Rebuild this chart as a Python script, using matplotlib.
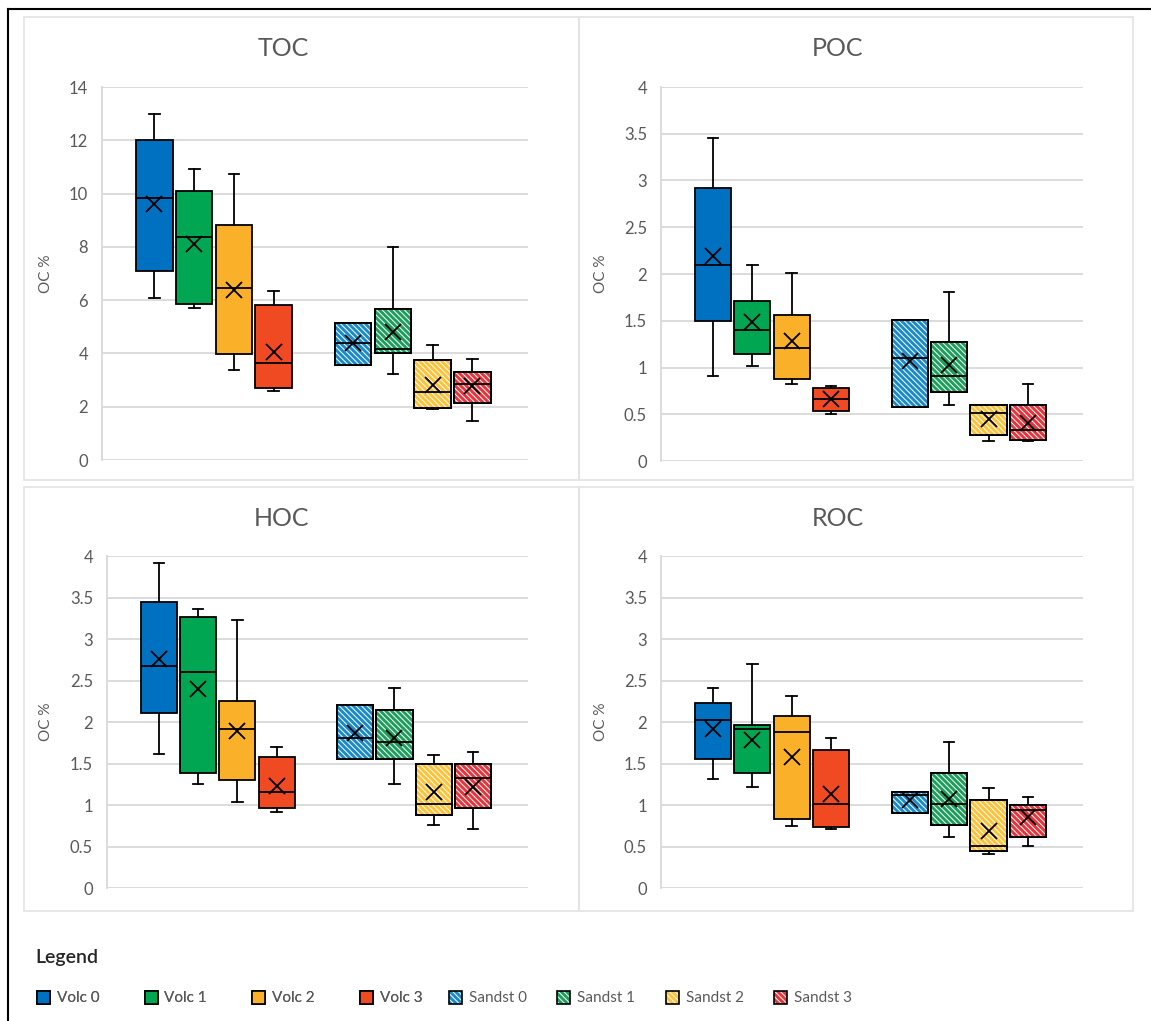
import numpy as np
import matplotlib
matplotlib.use('Agg')
import matplotlib.pyplot as plt
from matplotlib.patches import Patch, PathPatch, Rectangle
from matplotlib.lines import Line2D
from matplotlib.ticker import FuncFormatter

plt.rcParams['font.family'] = ['Lato', 'DejaVu Sans']
plt.rcParams['hatch.linewidth'] = 0.7

# groups, in drawing order
groups = ['Volc 0', 'Volc 1', 'Volc 2', 'Volc 3',
          'Sandst 0', 'Sandst 1', 'Sandst 2', 'Sandst 3']
colors = ['#0070C0', '#00A651', '#FBB02A', '#F04A23',
          '#1A8ACB', '#1E9E5C', '#FCC23A', '#E6343C']
hatched = [False, False, False, False, True, True, True, True]
positions = [0, 1, 2, 3, 5, 6, 7, 8]

# TOC
toc_min = [6.09, 5.69, 3.38, 2.59, 3.55, 3.21, 1.93, 1.46]
toc_q1 = [7.10, 5.84, 3.98, 2.71, 3.55, 4.00, 1.96, 2.15]
toc_med = [9.85, 8.36, 6.44, 3.65, 4.40, 4.18, 2.56, 2.84]
toc_q3 = [12.0, 10.09, 8.83, 5.80, 5.16, 5.66, 3.74, 3.29]
toc_max = [12.97, 10.94, 10.75, 6.35, 5.16, 7.98, 4.33, 3.80]
toc_mean = [9.60, 8.10, 6.37, 4.06, 4.40, 4.80, 2.81, 2.78]

# POC
poc_min = [0.91, 1.02, 0.82, 0.50, 0.58, 0.60, 0.21, 0.21]
poc_q1 = [1.50, 1.14, 0.88, 0.53, 0.58, 0.74, 0.28, 0.22]
poc_med = [2.10, 1.40, 1.21, 0.66, 1.10, 0.91, 0.51, 0.33]
poc_q3 = [2.92, 1.71, 1.56, 0.78, 1.51, 1.27, 0.60, 0.60]
poc_max = [3.45, 2.10, 2.01, 0.80, 1.51, 1.81, 0.60, 0.82]
poc_mean = [2.19, 1.49, 1.28, 0.66, 1.07, 1.03, 0.45, 0.41]

# HOC
hoc_min = [1.61, 1.25, 1.04, 0.91, 1.56, 1.25, 0.76, 0.71]
hoc_q1 = [2.11, 1.38, 1.30, 0.96, 1.56, 1.56, 0.88, 0.96]
hoc_med = [2.67, 2.60, 1.91, 1.16, 1.81, 1.76, 1.01, 1.32]
hoc_q3 = [3.45, 3.27, 2.25, 1.58, 2.20, 2.15, 1.50, 1.50]
hoc_max = [3.91, 3.36, 3.23, 1.70, 2.20, 2.41, 1.60, 1.64]
hoc_mean = [2.76, 2.40, 1.89, 1.23, 1.87, 1.81, 1.16, 1.22]

# ROC
roc_min = [1.31, 1.22, 0.75, 0.71, 0.90, 0.61, 0.41, 0.51]
roc_q1 = [1.56, 1.38, 0.83, 0.73, 0.90, 0.76, 0.44, 0.61]
roc_med = [2.02, 1.91, 1.88, 1.01, 1.12, 1.01, 0.51, 0.94]
roc_q3 = [2.23, 1.96, 2.07, 1.66, 1.16, 1.38, 1.06, 1.00]
roc_max = [2.41, 2.70, 2.31, 1.81, 1.16, 1.76, 1.20, 1.10]
roc_mean = [1.92, 1.78, 1.58, 1.13, 1.06, 1.07, 0.69, 0.86]

W, H = 1151, 1021
GRID = '#D9D9D9'
TXT = '#595959'
HATCH = '\\' * 6

fig = plt.figure(figsize=(W / 100, H / 100), dpi=100)


def px_rect(l, t, r, b):
    return [l / W, 1 - b / H, (r - l) / W, (b - t) / H]


# outer frame (top and left only) and panel borders
fig.add_artist(Line2D([8 / W, 1], [1 - 9 / H, 1 - 9 / H], transform=fig.transFigure,
                      color='black', lw=1.5))
fig.add_artist(Line2D([8 / W, 8 / W], [0, 1 - 9 / H], transform=fig.transFigure,
                      color='black', lw=1.5))
for l, t, r, b in [(24, 17, 579, 480), (579, 17, 1133, 480),
                   (24, 487, 579, 911), (579, 487, 1133, 911)]:
    x, y, w, h = px_rect(l, t, r, b)
    fig.add_artist(Rectangle((x, y), w, h, transform=fig.transFigure, fill=False,
                             edgecolor='#E3E3E3', lw=1.2))

panels = [
    ('TOC', (102, 87, 528, 460), 14, 2,
     toc_min, toc_q1, toc_med, toc_q3, toc_max, toc_mean, 283, 49, 53),
    ('POC', (661, 87, 1083, 461), 4, 0.5,
     poc_min, poc_q1, poc_med, poc_q3, poc_max, poc_mean, 838, 49, 608),
    ('HOC', (107, 556, 528, 888), 4, 0.5,
     hoc_min, hoc_q1, hoc_med, hoc_q3, hoc_max, hoc_mean, 281, 519, 53),
    ('ROC', (661, 556, 1083, 888), 4, 0.5,
     roc_min, roc_q1, roc_med, roc_q3, roc_max, roc_mean, 838, 519, 608),
]

for (title, rect, ymax, step, mn, q1, md, q3, mx, mean, tx, ty, lab_x) in panels:
    ax = fig.add_axes(px_rect(*rect))
    stats = []
    for i in range(len(groups)):
        stats.append(dict(whislo=mn[i], q1=q1[i], med=md[i], q3=q3[i],
                          whishi=mx[i], mean=mean[i], fliers=[]))
    res = ax.bxp(stats, positions=positions, widths=0.92, capwidths=0.27,
                 patch_artist=True, showmeans=True, showfliers=False,
                 manage_ticks=False,
                 boxprops=dict(edgecolor='black', linewidth=1.3),
                 whiskerprops=dict(color='black', linewidth=1.3),
                 capprops=dict(color='black', linewidth=1.3),
                 medianprops=dict(color='black', linewidth=1.3),
                 meanprops=dict(marker='x', markeredgecolor='black',
                                markersize=11, markeredgewidth=1.3))
    for box, c, hat in zip(res['boxes'], colors, hatched):
        box.set_facecolor(c)
        if hat:
            path = box.get_path()
            ax.add_patch(PathPatch(path, facecolor='none', edgecolor='white',
                                   hatch=HATCH, lw=0, zorder=2.02))
            ax.add_patch(PathPatch(path, fill=False, edgecolor='black',
                                   lw=1.3, zorder=2.03))

    ax.set_xlim(-1.32, 9.4)
    ax.set_ylim(0, ymax)
    ax.set_xticks([])
    ax.set_yticks(np.arange(0, ymax + step / 2, step))
    ax.yaxis.set_major_formatter(FuncFormatter(lambda v, p: f'{v:g}'))
    ax.tick_params(axis='y', length=0, pad=10, labelsize=12, labelcolor=TXT)
    ax.yaxis.grid(True, color=GRID, lw=1.3)
    ax.set_axisbelow(True)
    for s in ['top', 'right', 'bottom']:
        ax.spines[s].set_visible(False)
    ax.spines['left'].set_color(GRID)
    ax.spines['left'].set_linewidth(1.3)
    ax.set_ylabel('OC %', fontsize=11, color=TXT)
    l, t, r, b = rect
    ax.yaxis.set_label_coords((lab_x - l) / (r - l), 0.5)

    fig.text(tx / W, 1 - ty / H, title, ha='center', va='center',
             fontsize=18, color=TXT)

# legend
fig.text(35 / W, 1 - 957 / H, 'Legend', ha='left', va='center',
         fontsize=14, fontweight='semibold', color='#262626')
handles = []
for c, hat in zip(colors, hatched):
    if hat:
        handles.append((Patch(facecolor=c, edgecolor='none'),
                        Patch(facecolor='none', edgecolor='white', hatch=HATCH, lw=0),
                        Patch(facecolor='none', edgecolor='black', lw=1.2)))
    else:
        handles.append(Patch(facecolor=c, edgecolor='black', lw=1.2))

leg_kw = dict(loc='center left', ncol=4, frameon=False, borderpad=0, borderaxespad=0,
              handlelength=0.85, handleheight=0.95, handletextpad=0.45,
              fontsize=11, labelcolor=TXT)
leg1 = fig.legend(handles[:4], groups[:4], bbox_to_anchor=(37 / W, 1 - 998 / H),
                  columnspacing=2.95, **leg_kw)
fig.add_artist(leg1)
fig.legend(handles[4:], groups[4:], bbox_to_anchor=(449 / W, 1 - 998 / H),
           columnspacing=2.0, **leg_kw)

fig.savefig('out.png', dpi=100)
